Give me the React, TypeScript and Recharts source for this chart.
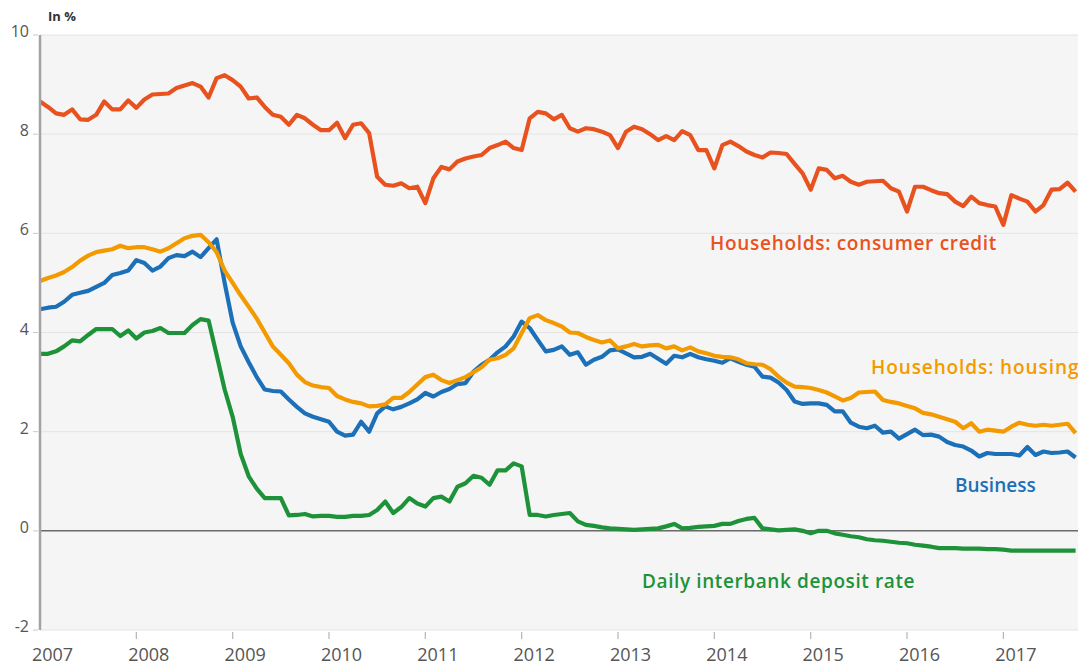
import { LineChart, Line, XAxis, YAxis, CartesianGrid, ReferenceLine } from "recharts"

// monthly values, Jan 2007 .. Oct 2017, in %
const consumerCredit = [
  8.66, 8.55, 8.42, 8.39, 8.5, 8.3, 8.29, 8.39, 8.66, 8.5,
  8.5, 8.68, 8.53, 8.7, 8.8, 8.81, 8.82, 8.93, 8.98, 9.03,
  8.96, 8.74, 9.13, 9.19, 9.09, 8.96, 8.72, 8.74, 8.55, 8.39,
  8.35, 8.19, 8.39, 8.32, 8.19, 8.08, 8.08, 8.23, 7.92, 8.19,
  8.22, 8.02, 7.14, 6.98, 6.96, 7.01, 6.91, 6.94, 6.61, 7.11,
  7.34, 7.29, 7.45, 7.51, 7.55, 7.58, 7.72, 7.78, 7.85, 7.72,
  7.68, 8.32, 8.45, 8.42, 8.3, 8.39, 8.12, 8.05, 8.12, 8.1,
  8.05, 7.98, 7.72, 8.05, 8.15, 8.1, 8.0, 7.88, 7.96, 7.88,
  8.06, 7.98, 7.68, 7.68, 7.31, 7.78, 7.85, 7.76, 7.65, 7.58,
  7.53, 7.63, 7.62, 7.6, 7.4, 7.21, 6.88, 7.31, 7.28, 7.11,
  7.16, 7.04, 6.98, 7.04, 7.05, 7.06, 6.91, 6.84, 6.44, 6.94,
  6.94, 6.87, 6.81, 6.79, 6.64, 6.55, 6.74, 6.61, 6.57, 6.54,
  6.17, 6.77, 6.7, 6.64, 6.44, 6.57, 6.88, 6.89, 7.02, 6.84,
]

const housing = [
  5.04, 5.1, 5.15, 5.22, 5.32, 5.45, 5.55, 5.62, 5.65, 5.68,
  5.75, 5.7, 5.72, 5.72, 5.68, 5.63, 5.7, 5.8, 5.9, 5.95,
  5.97, 5.82, 5.62, 5.25, 5.0, 4.75, 4.52, 4.28, 4.0, 3.72,
  3.55, 3.38, 3.15, 3.0, 2.93, 2.9, 2.88, 2.72, 2.65, 2.6,
  2.57, 2.51, 2.52, 2.55, 2.68, 2.68, 2.8, 2.95, 3.1, 3.15,
  3.04, 2.98, 3.04, 3.1, 3.2, 3.3, 3.45, 3.48, 3.55, 3.68,
  3.99, 4.29, 4.35, 4.25, 4.19, 4.12, 4.0, 3.99, 3.91, 3.85,
  3.8, 3.84, 3.68, 3.72, 3.77, 3.72, 3.74, 3.75, 3.68, 3.72,
  3.64, 3.7, 3.62, 3.58, 3.53, 3.51, 3.5, 3.46, 3.38, 3.36,
  3.35, 3.26, 3.11, 2.99, 2.91, 2.9, 2.88, 2.84, 2.79, 2.71,
  2.63, 2.68, 2.79, 2.8, 2.81, 2.64, 2.6, 2.57, 2.52, 2.47,
  2.38, 2.35, 2.3, 2.25, 2.2, 2.07, 2.17, 2.0, 2.04, 2.02,
  2.0, 2.1, 2.18, 2.14, 2.12, 2.14, 2.12, 2.14, 2.16, 1.97,
]

const business = [
  4.47, 4.5, 4.52, 4.62, 4.76, 4.8, 4.84, 4.92, 5.0, 5.16,
  5.2, 5.25, 5.46, 5.4, 5.25, 5.33, 5.5, 5.56, 5.54, 5.63,
  5.52, 5.7, 5.88, 5.0, 4.2, 3.72, 3.4, 3.1, 2.85, 2.82,
  2.81, 2.65, 2.5, 2.37, 2.3, 2.25, 2.2, 2.0, 1.92, 1.94,
  2.2, 2.0, 2.37, 2.51, 2.45, 2.5, 2.57, 2.65, 2.78, 2.71,
  2.8, 2.86, 2.96, 2.98, 3.21, 3.35, 3.45, 3.6, 3.72, 3.92,
  4.22, 4.09, 3.85, 3.62, 3.65, 3.72, 3.55, 3.6, 3.35, 3.45,
  3.51, 3.64, 3.66, 3.58, 3.5, 3.51, 3.57, 3.47, 3.37, 3.53,
  3.5, 3.57, 3.5, 3.46, 3.43, 3.39, 3.48, 3.41, 3.35, 3.31,
  3.11, 3.09, 2.99, 2.84, 2.61, 2.56, 2.57, 2.57, 2.54, 2.41,
  2.41, 2.18, 2.1, 2.07, 2.12, 1.98, 2.0, 1.86, 1.95, 2.04,
  1.93, 1.94, 1.9, 1.79, 1.73, 1.7, 1.62, 1.5, 1.57, 1.55,
  1.55, 1.55, 1.52, 1.69, 1.53, 1.6, 1.57, 1.58, 1.6, 1.48,
]

const depositRate = [
  3.57, 3.57, 3.62, 3.72, 3.84, 3.82, 3.95, 4.07, 4.07, 4.07,
  3.93, 4.04, 3.88, 4.0, 4.03, 4.09, 3.99, 3.99, 3.99, 4.15,
  4.27, 4.24, 3.55, 2.85, 2.3, 1.55, 1.1, 0.85, 0.66, 0.66,
  0.66, 0.31, 0.32, 0.34, 0.29, 0.3, 0.3, 0.28, 0.28, 0.3,
  0.3, 0.32, 0.42, 0.59, 0.36, 0.48, 0.66, 0.55, 0.49, 0.66,
  0.69, 0.59, 0.89, 0.96, 1.11, 1.07, 0.93, 1.22, 1.22, 1.36,
  1.3, 0.32, 0.32, 0.29, 0.32, 0.34, 0.36, 0.19, 0.12, 0.1,
  0.07, 0.05, 0.04, 0.03, 0.02, 0.03, 0.04, 0.05, 0.09, 0.14,
  0.05, 0.06, 0.08, 0.09, 0.1, 0.14, 0.14, 0.2, 0.24, 0.26,
  0.05, 0.03, 0.01, 0.02, 0.03, 0.0, -0.05, 0.0, 0.0, -0.05,
  -0.08, -0.11, -0.13, -0.17, -0.19, -0.2, -0.22, -0.24, -0.25, -0.28,
  -0.3, -0.32, -0.35, -0.35, -0.35, -0.36, -0.36, -0.36, -0.37, -0.37,
  -0.38, -0.4, -0.4, -0.4, -0.4, -0.4, -0.4, -0.4, -0.4, -0.4,
]

const yearLabels = ["2007", "2008", "2009", "2010", "2011", "2012", "2013", "2014", "2015", "2016", "2017"]
const yTicks = [-2, 0, 2, 4, 6, 8, 10]

const COLORS = {
  consumer: "#e8521f",
  housing: "#f39a00",
  business: "#1c70b7",
  deposit: "#1e9238",
}

const FONT = "'Open Sans', 'Noto Sans', sans-serif"

const data = consumerCredit.map((v, i) => ({
  m: i,
  consumer: v,
  housing: housing[i],
  business: business[i],
  deposit: depositRate[i],
}))

const monthTicks = yearLabels.map((_, i) => i * 12)

function XTick({ x, y, payload }: any) {
  const label = yearLabels[Math.round(payload.value / 12)]
  return (
    <g>
      {payload.value > 0 && <line x1={x} x2={x} y1={y + 2} y2={y + 9} stroke="#b5b5b5" strokeWidth={1.2} />}
      <text x={x + 12.5} y={y + 31} textAnchor="middle" fontSize={18} fill="#555" fontFamily={FONT}>
        {label}
      </text>
    </g>
  )
}

function YTick({ x, y, payload }: any) {
  return (
    <g>
      <line x1={x - 7} x2={x - 2} y1={y} y2={y} stroke="#c8c8c8" strokeWidth={1} />
      <text x={x - 11} y={y + 2} textAnchor="end" fontSize={16} fill="#555" fontFamily={FONT}>
        {payload.value}
      </text>
    </g>
  )
}

export default function App() {
  return (
    <div style={{ position: "absolute", left: 0, top: 0, width: 1078, height: 670, overflow: "hidden", background: "#fff" }}>
      <LineChart width={1078} height={670} data={data} margin={{ top: 35, right: 0, bottom: 0, left: 0 }}>
        <CartesianGrid vertical={false} stroke="#e4e4e4" fill="#f5f5f5" />
        <XAxis
          dataKey="m"
          type="number"
          domain={[0, 129.3]}
          ticks={monthTicks}
          height={40}
          axisLine={false}
          tickLine={false}
          tickSize={0}
          tickMargin={0}
          tick={<XTick />}
          interval={0}
        />
        <YAxis
          width={40}
          domain={[-2, 10]}
          ticks={yTicks}
          interval={0}
          axisLine={{ stroke: "#a3a3a3", strokeWidth: 2.5 }}
          tickLine={false}
          tickSize={0}
          tickMargin={0}
          tick={<YTick />}
        />
        <ReferenceLine y={0} stroke="#6b6b6b" strokeWidth={1.5} />
        <Line type="linear" dataKey="deposit" stroke={COLORS.deposit} strokeWidth={4.2} dot={false} isAnimationActive={false} strokeLinejoin="round" />
        <Line type="linear" dataKey="business" stroke={COLORS.business} strokeWidth={4.2} dot={false} isAnimationActive={false} strokeLinejoin="round" />
        <Line type="linear" dataKey="housing" stroke={COLORS.housing} strokeWidth={4.2} dot={false} isAnimationActive={false} strokeLinejoin="round" />
        <Line type="linear" dataKey="consumer" stroke={COLORS.consumer} strokeWidth={4.2} dot={false} isAnimationActive={false} strokeLinejoin="round" />
      </LineChart>
      <svg width={1078} height={670} style={{ position: "absolute", left: 0, top: 0, pointerEvents: "none" }}>
        <text x={48} y={21} fontSize={13} fontWeight={700} fill="#333" fontFamily={FONT}>In %</text>
        <text x={710} y={250} fontSize={19} fontWeight={600} letterSpacing={0.7} fill={COLORS.consumer} fontFamily={FONT}>Households: consumer credit</text>
        <text x={871} y={374} fontSize={19} fontWeight={600} letterSpacing={0.9} fill={COLORS.housing} fontFamily={FONT}>Households: housing</text>
        <text x={955} y={492} fontSize={19} fontWeight={600} fill={COLORS.business} fontFamily={FONT}>Business</text>
        <text x={642} y={588} fontSize={19} fontWeight={600} letterSpacing={0.6} fill={COLORS.deposit} fontFamily={FONT}>Daily interbank deposit rate</text>
      </svg>
    </div>
  )
}
